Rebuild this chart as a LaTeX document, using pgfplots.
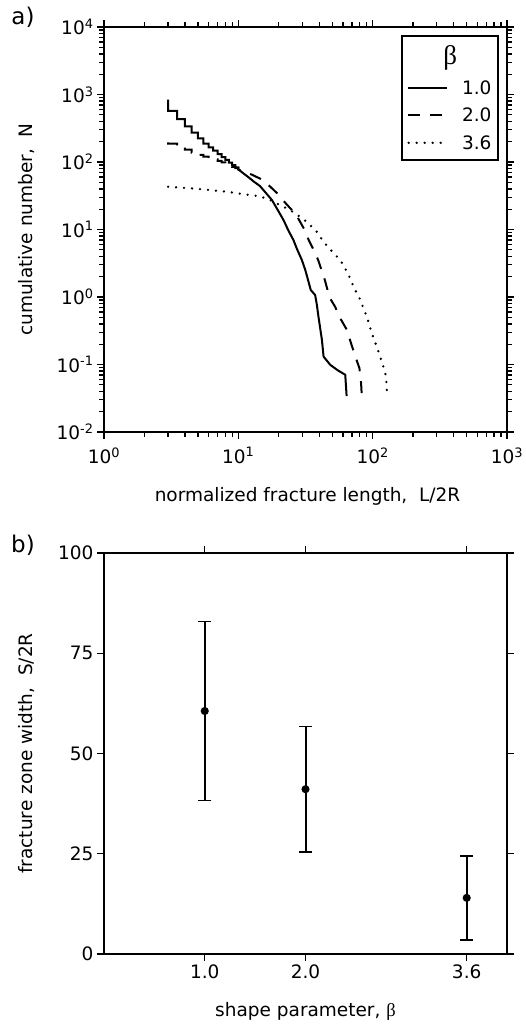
\documentclass[border=0pt]{standalone}
\usepackage{fontspec}
\setmainfont{DejaVu Sans}
\newfontfamily\betafont{Liberation Serif}
\usepackage{pgfplots}
\pgfplotsset{compat=1.18}
\tikzset{
  sA/.style={black, line width=2bp},
  sB/.style={black, line width=2bp, dash pattern=on 12bp off 10bp},
  sC/.style={black, line width=2.6bp, line cap=round, dash pattern=on 0bp off 8bp},
}
\pgfplotsset{
  ebar/.style={black, line width=2bp, only marks, mark=*, mark size=3bp,
    error bars/.cd, y dir=both, y explicit,
    error bar style={line width=2bp},
    error mark options={rotate=90, mark size=6.5bp, line width=1.6bp}},
}
\begin{document}
\begin{tikzpicture}
\useasboundingbox (0,0) rectangle (526bp,-1027bp);
\pgfplotsset{
  every axis/.append style={
    scale only axis, width=403bp,
    font=\fontsize{18.5bp}{22bp}\selectfont,
    axis line style={line width=1.5bp},
    tick style={line width=1.3bp, black},
    tick align=outside,
    major tick length=7bp, minor tick length=5bp,
  },
}
% ---------------- panel a ----------------
\begin{axis}[
  at={(104bp,-432bp)}, anchor=south west,
  height=405bp,
  xmode=log, ymode=log,
  xmin=1, xmax=1000, ymin=0.01, ymax=10000,
  xtick={1,10,100,1000},
  xticklabels={10\textsuperscript{0},10\textsuperscript{1},10\textsuperscript{2},10\textsuperscript{3}},
  xticklabel style={yshift=-5bp},
  minor xtick={2,3,4,5,6,7,8,9,20,30,40,50,60,70,80,90,200,300,400,500,600,700,800,900},
  ytick={0.01,0.1,1,10,100,1000,10000},
  yticklabels={10\textsuperscript{-2},10\textsuperscript{-1},10\textsuperscript{0},10\textsuperscript{1},10\textsuperscript{2},10\textsuperscript{3},10\textsuperscript{4}},
  minor ytick={0.02,0.03,0.04,0.05,0.06,0.07,0.08,0.09,0.2,0.3,0.4,0.5,0.6,0.7,0.8,0.9,2,3,4,5,6,7,8,9,20,30,40,50,60,70,80,90,200,300,400,500,600,700,800,900,2000,3000,4000,5000,6000,7000,8000,9000},
  xlabel={normalized fracture length,\ \ L/2R},
  ylabel={cumulative number,\ \ N},
  xlabel style={at={(axis description cs:0.505,-0.16)}, anchor=center},
  ylabel style={at={(axis description cs:-0.193,0.5)}, anchor=center, rotate=0},
]
\addplot[sA] coordinates {
(3,842)(3,571)(3.5,571)(3.5,431)(4,431)(4,337)(4.5,337)(4.5,272)(5,272)(5,224)(5.5,224)(5.5,188)
(6,188)(6,165)(6.5,165)(6.5,147)(7,147)(7,131)(7.5,131)(7.5,118)(8,118)(8,108)(8.5,108)(8.5,98)
(9,98)(9,90)(9.5,90)(9.5,83)(10,83)(10,78)(11,67)(12,58.7)(13,51.5)(14.5,44)(16,35)(17.8,27.3)
(19.5,20)(21.7,13.8)(23.5,9.8)(25.7,7.0)(27.5,5)(29.7,3.54)(31.5,2.52)(33,1.8)(34.6,1.27)(37.3,1.07)
(38.3,0.8)(39.5,0.51)(41.9,0.232)(43.1,0.131)(48.3,0.099)(55,0.082)(62.5,0.0705)(64,0.034)};
\addplot[sB] coordinates {
(3,195)(3,188)(3.5,188)(3.5,170)(4,170)(4,152)(4.5,152)(4.5,138)(5,138)(5,127)(5.5,127)(5.5,120)
(6,120)(6,114)(6.5,114)(6.5,109)(7,109)(7,104)(7.5,104)(7.5,99)(8,99)(8,94)(8.5,94)(8.5,89)
(9,89)(9,85)(9.5,85)(9.5,81)(10,81)(10,77)(11,72)(12.6,65)(15,55)(17.3,43)(19.6,34)(21.7,26.5)
(25,19.5)(27.8,14.8)(30.6,10.5)(33.4,7)(36.3,5)(39.3,3.54)(41.9,2.4)(44,1.8)(46,1.3)(47.5,1.0)
(52.5,0.72)(57.3,0.485)(64.3,0.326)(69,0.207)(74.3,0.131)(79.7,0.0885)(82,0.053)(83,0.034)};
\addplot[sC] coordinates {
(3,43)(5,40)(8,36.5)(10.3,34)(12,32.5)(14.5,31)(17.3,27.3)(20,23.5)(24.3,19.4)(28,16)(32.3,13)
(38,9.5)(43,6.6)(50,4.7)(57.3,3.54)(65,2.3)(74,1.27)(80,0.95)(90.5,0.51)(98.6,0.29)(110,0.16)
(120,0.093)(126,0.066)(128,0.035)};
% legend
\draw[line width=1.6bp, fill=white] (rel axis cs:0.739,0.672) rectangle (rel axis cs:0.978,0.978);
\node[font=\betafont\fontsize{27bp}{29bp}\selectfont] at (rel axis cs:0.859,0.924) {β};
\draw[sA] (rel axis cs:0.754,0.849) -- (rel axis cs:0.851,0.849);
\draw[sB] (rel axis cs:0.754,0.783) -- (rel axis cs:0.851,0.783);
\draw[sC] (rel axis cs:0.756,0.714) -- (rel axis cs:0.851,0.714);
\node[anchor=west, inner sep=0pt] at (rel axis cs:0.888,0.849) {1.0};
\node[anchor=west, inner sep=0pt] at (rel axis cs:0.888,0.783) {2.0};
\node[anchor=west, inner sep=0pt] at (rel axis cs:0.888,0.714) {3.6};
\end{axis}
\node[font=\fontsize{23bp}{26bp}\selectfont] at (23bp,-17bp) {a)};
% ---------------- panel b ----------------
\begin{axis}[
  at={(104bp,-954bp)}, anchor=south west,
  height=401bp,
  xmin=0, xmax=4, ymin=0, ymax=100,
  xtick={1,2,3.6}, xticklabels={1.0,2.0,3.6},
  ytick={0,25,50,75,100}, yticklabels={0,25,50,75,100},
  xlabel={shape parameter, {\betafont β}},
  ylabel={fracture zone width,\ \ S/2R},
  xlabel style={at={(axis description cs:0.5,-0.142)}, anchor=center},
  ylabel style={at={(axis description cs:-0.193,0.5)}, anchor=center, rotate=0},
]
\addplot[ebar] coordinates {(1,60.6) +- (0,22.35)};
\addplot[ebar] coordinates {(2,41.1) +- (0,15.65)};
\addplot[ebar] coordinates {(3.6,14.0) +- (0,10.45)};
\end{axis}
\node[font=\fontsize{23bp}{26bp}\selectfont] at (23bp,-545bp) {b)};
\end{tikzpicture}
\end{document}
